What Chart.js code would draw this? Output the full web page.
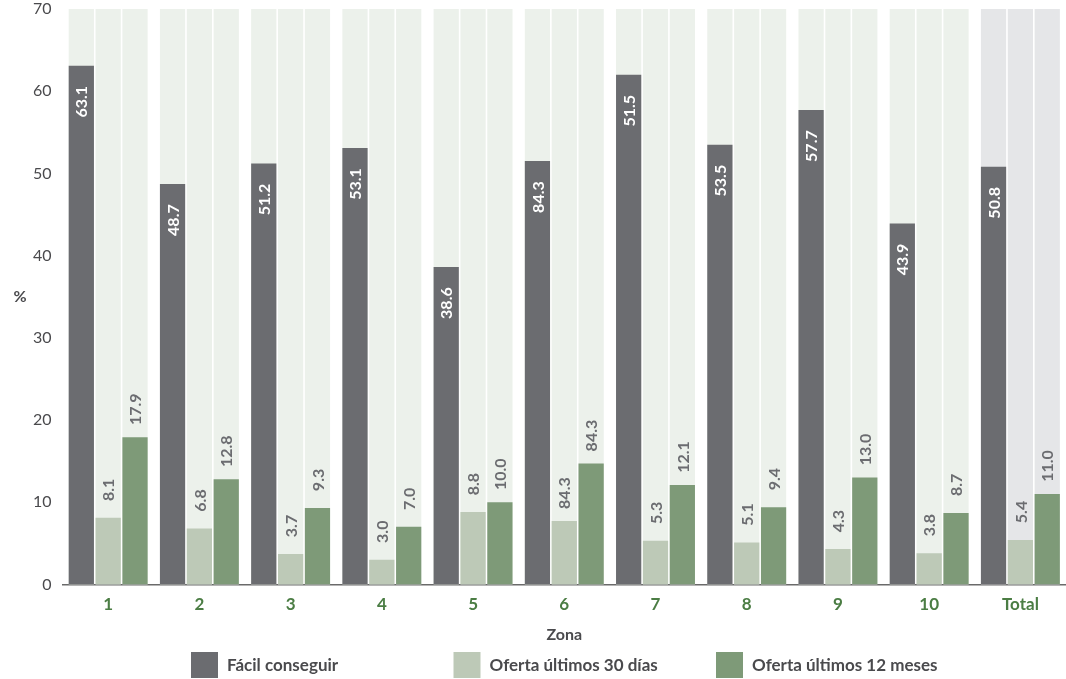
<!DOCTYPE html>
<html><head><meta charset="utf-8">
<script src="https://cdn.jsdelivr.net/npm/chart.js@4/dist/chart.umd.min.js"></script>
<style>html,body{margin:0;padding:0;background:#fff}#wrap{width:1066px;height:679px;position:relative}</style>
</head><body><div id="wrap"><canvas id="c"></canvas></div>
<script>
const zonas = ['1','2','3','4','5','6','7','8','9','10','Total'];
const facil    = [63.1,48.7,51.2,53.1,38.6,51.5,62.0,53.5,57.7,43.9,50.8];
const oferta30 = [8.1,6.8,3.7,3.0,8.8,7.7,5.3,5.1,4.3,3.8,5.4];
const oferta12 = [17.9,12.8,9.3,7.0,10.0,14.7,12.1,9.4,13.0,8.7,11.0];
const facilLabels    = ['63.1','48.7','51.2','53.1','38.6','84.3','51.5','53.5','57.7','43.9','50.8'];
const oferta30Labels = ['8.1','6.8','3.7','3.0','8.8','84.3','5.3','5.1','4.3','3.8','5.4'];
const oferta12Labels = ['17.9','12.8','9.3','7.0','10.0','84.3','12.1','9.4','13.0','8.7','11.0'];
const seriesNames = ['Fácil conseguir','Oferta últimos 30 días','Oferta últimos 12 meses'];
const yMax = 70;

const FONT = 'Lato';
Chart.defaults.font.family = FONT;

const bgPlugin = {
  id: 'bgCols',
  beforeDatasetsDraw(chart) {
    const ctx = chart.ctx, y = chart.scales.y;
    const top = y.getPixelForValue(yMax), base = y.getPixelForValue(0);
    ctx.save();
    chart.data.datasets.forEach((ds, di) => {
      const meta = chart.getDatasetMeta(di);
      meta.data.forEach((bar, i) => {
        ctx.fillStyle = i === zonas.length - 1 ? '#e5e6e8' : '#ecf1eb';
        ctx.fillRect(bar.x - bar.width / 2, top, bar.width, base - top);
      });
    });
    ctx.restore();
  }
};

const labelPlugin = {
  id: 'valLabels',
  afterDatasetsDraw(chart) {
    const ctx = chart.ctx;
    ctx.save();
    ctx.font = 'bold 16px ' + FONT;
    ctx.textAlign = 'center';
    ctx.textBaseline = 'middle';
    chart.data.datasets.forEach((ds, di) => {
      const meta = chart.getDatasetMeta(di);
      meta.data.forEach((bar, i) => {
        const txt = ds.valueLabels[i];
        let cy;
        if (di === 0) { ctx.fillStyle = '#ffffff'; cy = bar.y + 36; }
        else { ctx.fillStyle = '#6b6c70'; cy = bar.y - 28; }
        ctx.save();
        ctx.translate(bar.x, cy);
        ctx.rotate(-Math.PI / 2);
        ctx.fillText(txt, 0, 1);
        ctx.restore();
      });
    });
    ctx.restore();
  }
};

const pctPlugin = {
  id: 'pctTitle',
  afterDraw(chart) {
    const ctx = chart.ctx, a = chart.chartArea;
    ctx.save();
    ctx.font = 'bold 16px ' + FONT;
    ctx.fillStyle = '#4a4a4d';
    ctx.textAlign = 'center';
    ctx.textBaseline = 'middle';
    ctx.fillText('%', 20, (a.top + a.bottom) / 2);
    ctx.restore();
  }
};

// legend drawn in equal-width columns below the x-axis title
const legendPlugin = {
  id: 'colLegend',
  afterDraw(chart) {
    const ctx = chart.ctx, a = chart.chartArea, xs = chart.scales.x;
    const colW = 262.5, boxW = 27, boxH = 26, gap = 9;
    ctx.save();
    ctx.font = 'bold 17px ' + FONT;
    const lastW = boxW + gap + ctx.measureText(chart.data.datasets[2].label).width;
    const total = colW * (chart.data.datasets.length - 1) + lastW;
    let x = (a.left + a.right) / 2 - total / 2;
    const top = xs.bottom + 4;
    chart.data.datasets.forEach((ds) => {
      ctx.fillStyle = ds.backgroundColor;
      ctx.fillRect(x, top, boxW, boxH);
      ctx.fillStyle = '#4a4a4d';
      ctx.textAlign = 'left';
      ctx.textBaseline = 'middle';
      ctx.fillText(ds.label, x + boxW + gap, top + boxH / 2 + 1);
      x += colW;
    });
    ctx.restore();
  }
};

new Chart(document.getElementById('c'), {
  type: 'bar',
  data: {
    labels: zonas,
    datasets: [
      { label: seriesNames[0], data: facil, valueLabels: facilLabels, backgroundColor: '#6b6c70' },
      { label: seriesNames[1], data: oferta30, valueLabels: oferta30Labels, backgroundColor: '#bdc9b7' },
      { label: seriesNames[2], data: oferta12, valueLabels: oferta12Labels, backgroundColor: '#7e9a78' }
    ]
  },
  options: {
    responsive: true,
    maintainAspectRatio: false,
    animation: false,
    datasets: { bar: { categoryPercentage: 0.883, barPercentage: 0.94, borderWidth: 0 } },
    layout: { padding: { left: 22, right: 0, top: 0, bottom: 31 } },
    scales: {
      x: {
        grid: { display: false, drawTicks: false },
        border: { display: true, color: '#6a6a6a', width: 1.5 },
        ticks: { color: '#4b7d44', font: { size: 17, weight: 'bold' }, padding: 10 },
        title: { display: true, text: 'Zona', color: '#4a4a4d', font: { size: 16, weight: 'bold' }, padding: { top: 0, bottom: 4 } }
      },
      y: {
        min: 0, max: yMax,
        grid: { display: false, drawTicks: false },
        border: { display: false },
        ticks: { stepSize: 10, color: '#4a4a4d', font: { size: 16 }, padding: 11 },
        afterFit(scale) { scale.paddingTop = 9; }
      }
    },
    plugins: {
      legend: { display: false },
      tooltip: { enabled: false }
    }
  },
  plugins: [bgPlugin, labelPlugin, pctPlugin, legendPlugin]
});
</script>
</body></html>
